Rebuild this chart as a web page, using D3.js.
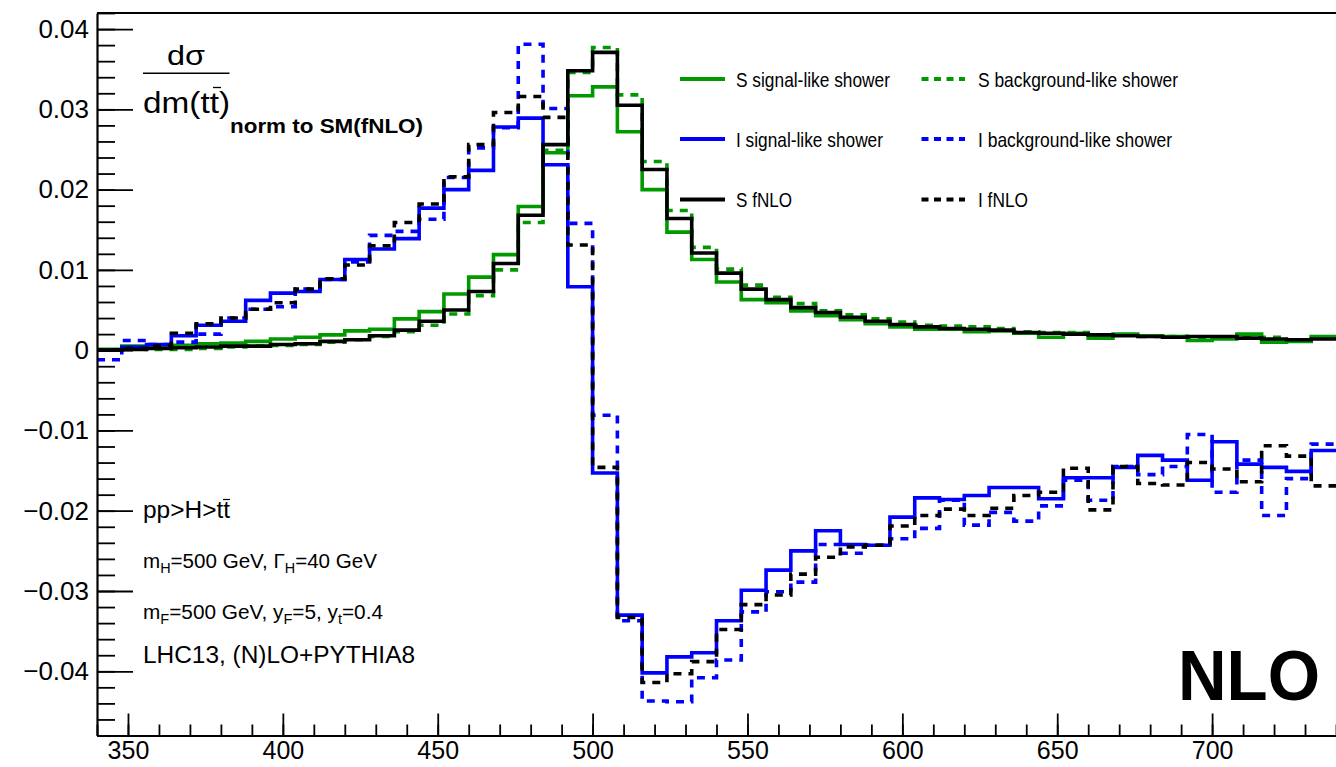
<!DOCTYPE html>
<html>
<head>
<meta charset="utf-8">
<script src="https://cdn.jsdelivr.net/npm/d3@7"></script>
<style>
  html, body { margin: 0; padding: 0; background: #fff; }
  svg { display: block; }
  text { font-family: "Liberation Sans", Arial, Helvetica, sans-serif; }
</style>
</head>
<body>
<svg id="chart" width="1336" height="767"></svg>
<script>
// ---------------- data ----------------
const binEdges = [340,348,356,364,372,380,388,396,404,412,420,428,436,444,452,460,468,476,484,492,
                  500,508,516,524,532,540,548,556,564,572,580,588,596,604,612,620,628,636,644,652,
                  660,668,676,684,692,700,708,716,724,732,740];

const sSignalShower = [0.0001,0.0005,0.0005,0.0006,0.0008,0.0009,0.0011,0.0014,0.0016,0.0019,
  0.0024,0.0026,0.0039,0.0048,0.0070,0.0091,0.0119,0.0179,0.0246,0.0317,
  0.0328,0.0272,0.0200,0.0147,0.0113,0.0085,0.0063,0.0059,0.0049,0.0043,
  0.0038,0.0033,0.0029,0.0026,0.0026,0.0023,0.0024,0.0021,0.0016,0.0021,
  0.0015,0.0020,0.0018,0.0017,0.0012,0.0014,0.0020,0.0010,0.0011,0.0017];

const sBackgroundShower = [0.0000,0.0002,0.0001,0.0001,0.0002,0.0004,0.0005,0.0006,0.0007,0.0010,
  0.0013,0.0017,0.0023,0.0031,0.0045,0.0068,0.0100,0.0159,0.0249,0.0346,
  0.0377,0.0318,0.0235,0.0174,0.0128,0.0101,0.0081,0.0066,0.0058,0.0049,
  0.0044,0.0039,0.0035,0.0031,0.0030,0.0029,0.0027,0.0023,0.0022,0.0022,
  0.0019,0.0019,0.0017,0.0017,0.0016,0.0016,0.0016,0.0016,0.0013,0.0015];

const iSignalShower = [0.0000,0.0004,0.0007,0.0018,0.0031,0.0036,0.0062,0.0071,0.0073,0.0088,
  0.0113,0.0126,0.0139,0.0177,0.0200,0.0224,0.0278,0.0289,0.0231,0.0079,
  -0.0153,-0.0330,-0.0402,-0.0382,-0.0377,-0.0337,-0.0299,-0.0274,-0.0250,-0.0225,
  -0.0242,-0.0243,-0.0208,-0.0184,-0.0186,-0.0181,-0.0171,-0.0171,-0.0185,-0.0159,
  -0.0159,-0.0146,-0.0131,-0.0137,-0.0162,-0.0114,-0.0142,-0.0146,-0.0151,-0.0125];

const iBackgroundShower = [-0.0012,0.0012,0.0007,0.0010,0.0020,0.0040,0.0051,0.0054,0.0076,0.0088,
  0.0110,0.0143,0.0148,0.0163,0.0215,0.0252,0.0277,0.0381,0.0301,0.0158,
  -0.0081,-0.0337,-0.0437,-0.0438,-0.0408,-0.0386,-0.0326,-0.0301,-0.0289,-0.0242,
  -0.0253,-0.0243,-0.0235,-0.0222,-0.0187,-0.0218,-0.0202,-0.0213,-0.0194,-0.0162,
  -0.0187,-0.0145,-0.0155,-0.0145,-0.0105,-0.0177,-0.0137,-0.0206,-0.0160,-0.0117];

const sFNLO = [0.0000,0.0001,0.0002,0.0003,0.0004,0.0005,0.0005,0.0007,0.0008,0.0011,
  0.0013,0.0018,0.0025,0.0036,0.0050,0.0073,0.0108,0.0168,0.0256,0.0348,
  0.0371,0.0305,0.0225,0.0164,0.0121,0.0096,0.0076,0.0063,0.0053,0.0047,
  0.0041,0.0036,0.0032,0.0029,0.0027,0.0026,0.0025,0.0022,0.0021,0.0020,
  0.0019,0.0018,0.0017,0.0016,0.0017,0.0017,0.0015,0.0014,0.0013,0.0014];

const iFNLO = [0.0000,0.0002,0.0005,0.0021,0.0033,0.0040,0.0051,0.0059,0.0076,0.0089,
  0.0106,0.0130,0.0159,0.0182,0.0216,0.0256,0.0296,0.0316,0.0290,0.0131,
  -0.0146,-0.0333,-0.0414,-0.0403,-0.0388,-0.0348,-0.0317,-0.0305,-0.0279,-0.0258,
  -0.0245,-0.0243,-0.0219,-0.0206,-0.0198,-0.0206,-0.0197,-0.0181,-0.0177,-0.0147,
  -0.0199,-0.0145,-0.0166,-0.0168,-0.0140,-0.0148,-0.0164,-0.0119,-0.0132,-0.0169];

const seriesNames = ["S signal-like shower","S background-like shower","I signal-like shower",
                     "I background-like shower","S fNLO","I fNLO"];
const seriesColors = ["#009900","#009900","#0000ff","#0000ff","#000000","#000000"];
const seriesDashed = [false,true,false,true,false,true];
const seriesValues = [sSignalShower,sBackgroundShower,iSignalShower,iBackgroundShower,sFNLO,iFNLO];

const xTickValues = [350,400,450,500,550,600,650,700];
const xTickLabels = ["350","400","450","500","550","600","650","700"];
const yTickValues = [0.04,0.03,0.02,0.01,0,-0.01,-0.02,-0.03,-0.04];
const yTickLabels = ["0.04","0.03","0.02","0.01","0","\u22120.01","\u22120.02","\u22120.03","\u22120.04"];

// ---------------- layout ----------------
const svg = d3.select("#chart");
const L = 97, R = 1336, T = 13, B = 735.5;
const x = d3.scaleLinear().domain([340, 740]).range([L, R]);
const y = d3.scaleLinear().domain([-0.048, 0.042]).range([B, T]);

svg.append("defs").append("clipPath").attr("id","plotclip")
  .append("rect").attr("x", L).attr("y", T).attr("width", R - L).attr("height", B - T);

// ---------------- histograms ----------------
const line = d3.line().x(d => x(d[0])).y(d => y(d[1])).curve(d3.curveStepAfter);
const gH = svg.append("g").attr("clip-path","url(#plotclip)");
seriesValues.forEach((vals, si) => {
  const pts = vals.map((v, i) => [binEdges[i], v]);
  pts.push([binEdges[binEdges.length - 1], vals[vals.length - 1]]);
  gH.append("path")
    .attr("d", line(pts))
    .attr("fill", "none")
    .attr("stroke", seriesColors[si])
    .attr("stroke-width", 3.6)
    .attr("stroke-dasharray", seriesDashed[si] ? "8,7" : null)
    .attr("stroke-linejoin", "miter")
    .attr("stroke-linecap", "butt");
});

// ---------------- axes ----------------
const axisFont = "26px";
// y minor
const yMinor = d3.range(-24, 22).map(k => k * 0.002);
svg.append("g").attr("transform", `translate(${L},0)`)
  .call(d3.axisLeft(y).tickValues(yMinor).tickSizeInner(-18).tickSizeOuter(0).tickFormat(""))
  .call(g => g.select(".domain").remove())
  .call(g => g.selectAll("line").attr("stroke-width", 1.8));
// y major
svg.append("g").attr("transform", `translate(${L},0)`)
  .call(d3.axisLeft(y).tickValues(yTickValues).tickSizeInner(-36).tickSizeOuter(0).tickPadding(8)
        .tickFormat((d, i) => yTickLabels[i]))
  .call(g => g.select(".domain").attr("stroke-width", 2.2))
  .call(g => g.selectAll("line").attr("stroke-width", 1.8))
  .call(g => g.selectAll("text").attr("font-size", axisFont).attr("font-family", "Liberation Sans, Arial, sans-serif").attr("fill", "#000"));

// x minor
const xMinor = d3.range(340, 741, 10);
svg.append("g").attr("transform", `translate(0,${B})`)
  .call(d3.axisBottom(x).tickValues(xMinor).tickSizeInner(-11).tickSizeOuter(0).tickFormat(""))
  .call(g => g.select(".domain").remove())
  .call(g => g.selectAll("line").attr("stroke-width", 1.8));
// x major
svg.append("g").attr("transform", `translate(0,${B})`)
  .call(d3.axisBottom(x).tickValues(xTickValues).tickSizeInner(-22).tickSizeOuter(0).tickPadding(6)
        .tickFormat((d, i) => xTickLabels[i]))
  .call(g => g.select(".domain").attr("stroke-width", 2.2))
  .call(g => g.selectAll("line").attr("stroke-width", 1.8))
  .call(g => g.selectAll("text").attr("font-size", "25px").attr("font-family", "Liberation Sans, Arial, sans-serif").attr("fill", "#000"));

// top frame line
svg.append("line").attr("x1", L).attr("x2", R + 2).attr("y1", T).attr("y2", T)
  .attr("stroke", "#000").attr("stroke-width", 2.2);

// ---------------- legend ----------------
const legRowY = [79, 139, 199.5];
const legColLine = [[680, 725], [921.5, 965]];
const legColText = [736, 978];
const legTextLen = [154, 200, 147, 194, 56, 50];
seriesNames.forEach((name, i) => {
  const r = Math.floor(i / 2), c = i % 2;
  svg.append("line")
    .attr("x1", legColLine[c][0]).attr("x2", legColLine[c][1])
    .attr("y1", legRowY[r]).attr("y2", legRowY[r])
    .attr("stroke", seriesColors[i]).attr("stroke-width", 4)
    .attr("stroke-dasharray", seriesDashed[i] ? "7,5.5" : null);
  svg.append("text")
    .attr("x", legColText[c]).attr("y", legRowY[r] + 7.5)
    .attr("font-size", 21)
    .attr("textLength", legTextLen[i]).attr("lengthAdjust", "spacingAndGlyphs")
    .text(name);
});

// ---------------- y title ----------------
svg.append("text").attr("x", 167).attr("y", 65).attr("font-size", 27)
  .attr("textLength", 38).attr("lengthAdjust", "spacingAndGlyphs").text("d\u03c3");
svg.append("line").attr("x1", 143).attr("x2", 229.5).attr("y1", 73.3).attr("y2", 73.3)
  .attr("stroke", "#000").attr("stroke-width", 1.4);
svg.append("text").attr("x", 143).attr("y", 113).attr("font-size", 30)
  .attr("textLength", 87).attr("lengthAdjust", "spacingAndGlyphs").text("dm(tt)");
svg.append("line").attr("x1", 213).attr("x2", 221).attr("y1", 87.5).attr("y2", 87.5)
  .attr("stroke", "#000").attr("stroke-width", 1.3);
svg.append("text").attr("x", 230).attr("y", 133).attr("font-size", 20).attr("font-weight", "bold")
  .attr("textLength", 193).attr("lengthAdjust", "spacingAndGlyphs").text("norm to SM(fNLO)");

// ---------------- annotations ----------------
svg.append("text").attr("x", 143).attr("y", 518).attr("font-size", 23)
  .attr("textLength", 87).attr("lengthAdjust", "spacingAndGlyphs").text("pp>H>tt");
svg.append("line").attr("x1", 223).attr("x2", 230).attr("y1", 499.5).attr("y2", 499.5)
  .attr("stroke", "#000").attr("stroke-width", 1.2);

const t1 = svg.append("text").attr("x", 143).attr("y", 568).attr("font-size", 20)
  .attr("textLength", 234).attr("lengthAdjust", "spacingAndGlyphs");
t1.append("tspan").text("m");
t1.append("tspan").attr("font-size", 14).attr("dy", 5).text("H");
t1.append("tspan").attr("dy", -5).text("=500 GeV, \u0393");
t1.append("tspan").attr("font-size", 14).attr("dy", 5).text("H");
t1.append("tspan").attr("dy", -5).text("=40 GeV");

const t2 = svg.append("text").attr("x", 143).attr("y", 619).attr("font-size", 20)
  .attr("textLength", 240).attr("lengthAdjust", "spacingAndGlyphs");
t2.append("tspan").text("m");
t2.append("tspan").attr("font-size", 14).attr("dy", 5).text("F");
t2.append("tspan").attr("dy", -5).text("=500 GeV, y");
t2.append("tspan").attr("font-size", 14).attr("dy", 5).text("F");
t2.append("tspan").attr("dy", -5).text("=5, y");
t2.append("tspan").attr("font-size", 14).attr("dy", 5).text("t");
t2.append("tspan").attr("dy", -5).text("=0.4");

svg.append("text").attr("x", 143).attr("y", 663).attr("font-size", 23)
  .attr("textLength", 272).attr("lengthAdjust", "spacingAndGlyphs").text("LHC13, (N)LO+PYTHIA8");

svg.append("text").attr("x", 1178).attr("y", 700).attr("font-size", 70).attr("font-weight", "bold")
  .attr("textLength", 142).attr("lengthAdjust", "spacingAndGlyphs").text("NLO");
</script>
</body>
</html>
